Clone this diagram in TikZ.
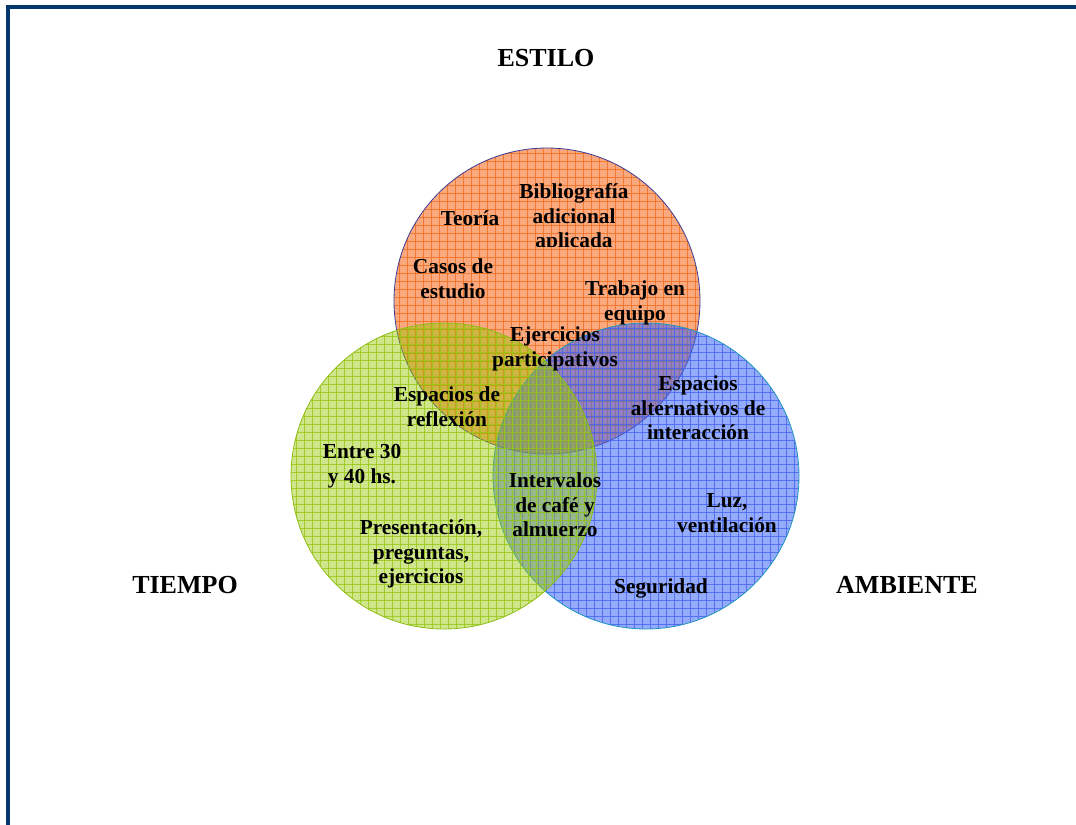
\documentclass[tikz,border=0pt]{standalone}
\usepackage{fontspec}
\setmainfont{Liberation Serif}
\usepackage{tikz}
\usetikzlibrary{positioning}

\definecolor{framebl}{RGB}{0,56,108}
\definecolor{estilofill}{RGB}{247,110,40}
\definecolor{estiloline}{RGB}{240,110,30}
\definecolor{estiloedge}{RGB}{60,60,150}
\definecolor{ambfill}{RGB}{60,100,245}
\definecolor{ambline}{RGB}{70,100,240}
\definecolor{ambedge}{RGB}{30,150,190}
\definecolor{tiempofill}{RGB}{151,199,0}
\definecolor{tiempoline}{RGB}{150,200,20}
\definecolor{tiempoedge}{RGB}{140,190,20}

\begin{document}
\begin{tikzpicture}[
  x=0.75pt, y=-0.75pt,
  lbl/.style={
    align=center, inner sep=0pt,
    font=\bfseries\fontsize{16}{18.5}\selectfont
  },
  title/.style={
    inner sep=0pt,
    font=\bfseries\fontsize{19.5}{22}\selectfont
  },
]
\useasboundingbox (0,0) rectangle (1076,825);

% --- Frame ---
\draw[framebl, line width=3pt] (8,825) -- (8,7) -- (1076,7);

% --- Circles: estilo, ambiente, tiempo (tiempo on top) ---
\foreach \cx/\cy/\fc/\lc/\ec/\op in {
    547/301/estilofill/estiloline/estiloedge/0.6,
    646/476/ambfill/ambline/ambedge/0.55,
    444/476/tiempofill/tiempoline/tiempoedge/0.45} {
  \begin{scope}
    \clip (\cx,\cy) circle[radius=114.75pt];
    \fill[\fc, fill opacity=\op] (\cx,\cy) circle[radius=114.75pt];
    \foreach \g in {-156,-148,...,156} {
      \draw[\lc, line width=0.45pt, opacity=0.8] (\cx+\g,\cy-160) -- (\cx+\g,\cy+160);
      \draw[\lc, line width=0.45pt, opacity=0.8] (\cx-160,\cy+\g) -- (\cx+160,\cy+\g);
    }
  \end{scope}
  \draw[\ec, line width=0.6pt] (\cx,\cy) circle[radius=114.75pt];
}

% --- Outer titles ---
\node[title] (ESTILO) at (546,58) {ESTILO};
\node[title] (TIEMPO) at (185,585) {TIEMPO};
\node[title] (AMB) at (907,585) {AMBIENTE};

% --- Estilo ---
\node[lbl] (TEO) at (470,218) {Teoría};
\begin{scope}
  \clip (500,170) rectangle (660,246);
  \node[lbl] (BIB) at (574,218) {Bibliografía\\ adicional\\ aplicada};
\end{scope}
\node[lbl] (CASOS) at (453,279) {Casos de\\ estudio};
\node[lbl] (TRAB) at (635,303) {Trabajo en\\ equipo};
\node[lbl] (EJER) at (555,349) {Ejercicios\\ participativos};

% --- Tiempo ---
\node[lbl] (REFL) at (447,407) {Espacios de\\ reflexión};
\node[lbl] (HS) at (362,466) {Entre 30\\ y 40 hs.};
\node[lbl] (PRES) at (421,554) {Presentación,\\ preguntas,\\ ejercicios};
\node[lbl] (CAFE) at (555,505) {Intervalos\\ de café y\\ almuerzo};

% --- Ambiente ---
\node[lbl] (ALT) at (698,408) {Espacios\\ alternativos de\\ interacción};
\node[lbl] (LUZ) at (727,513) {Luz,\\ ventilación};
\node[lbl] (SEG) at (661,588) {Seguridad};

\end{tikzpicture}
\end{document}
